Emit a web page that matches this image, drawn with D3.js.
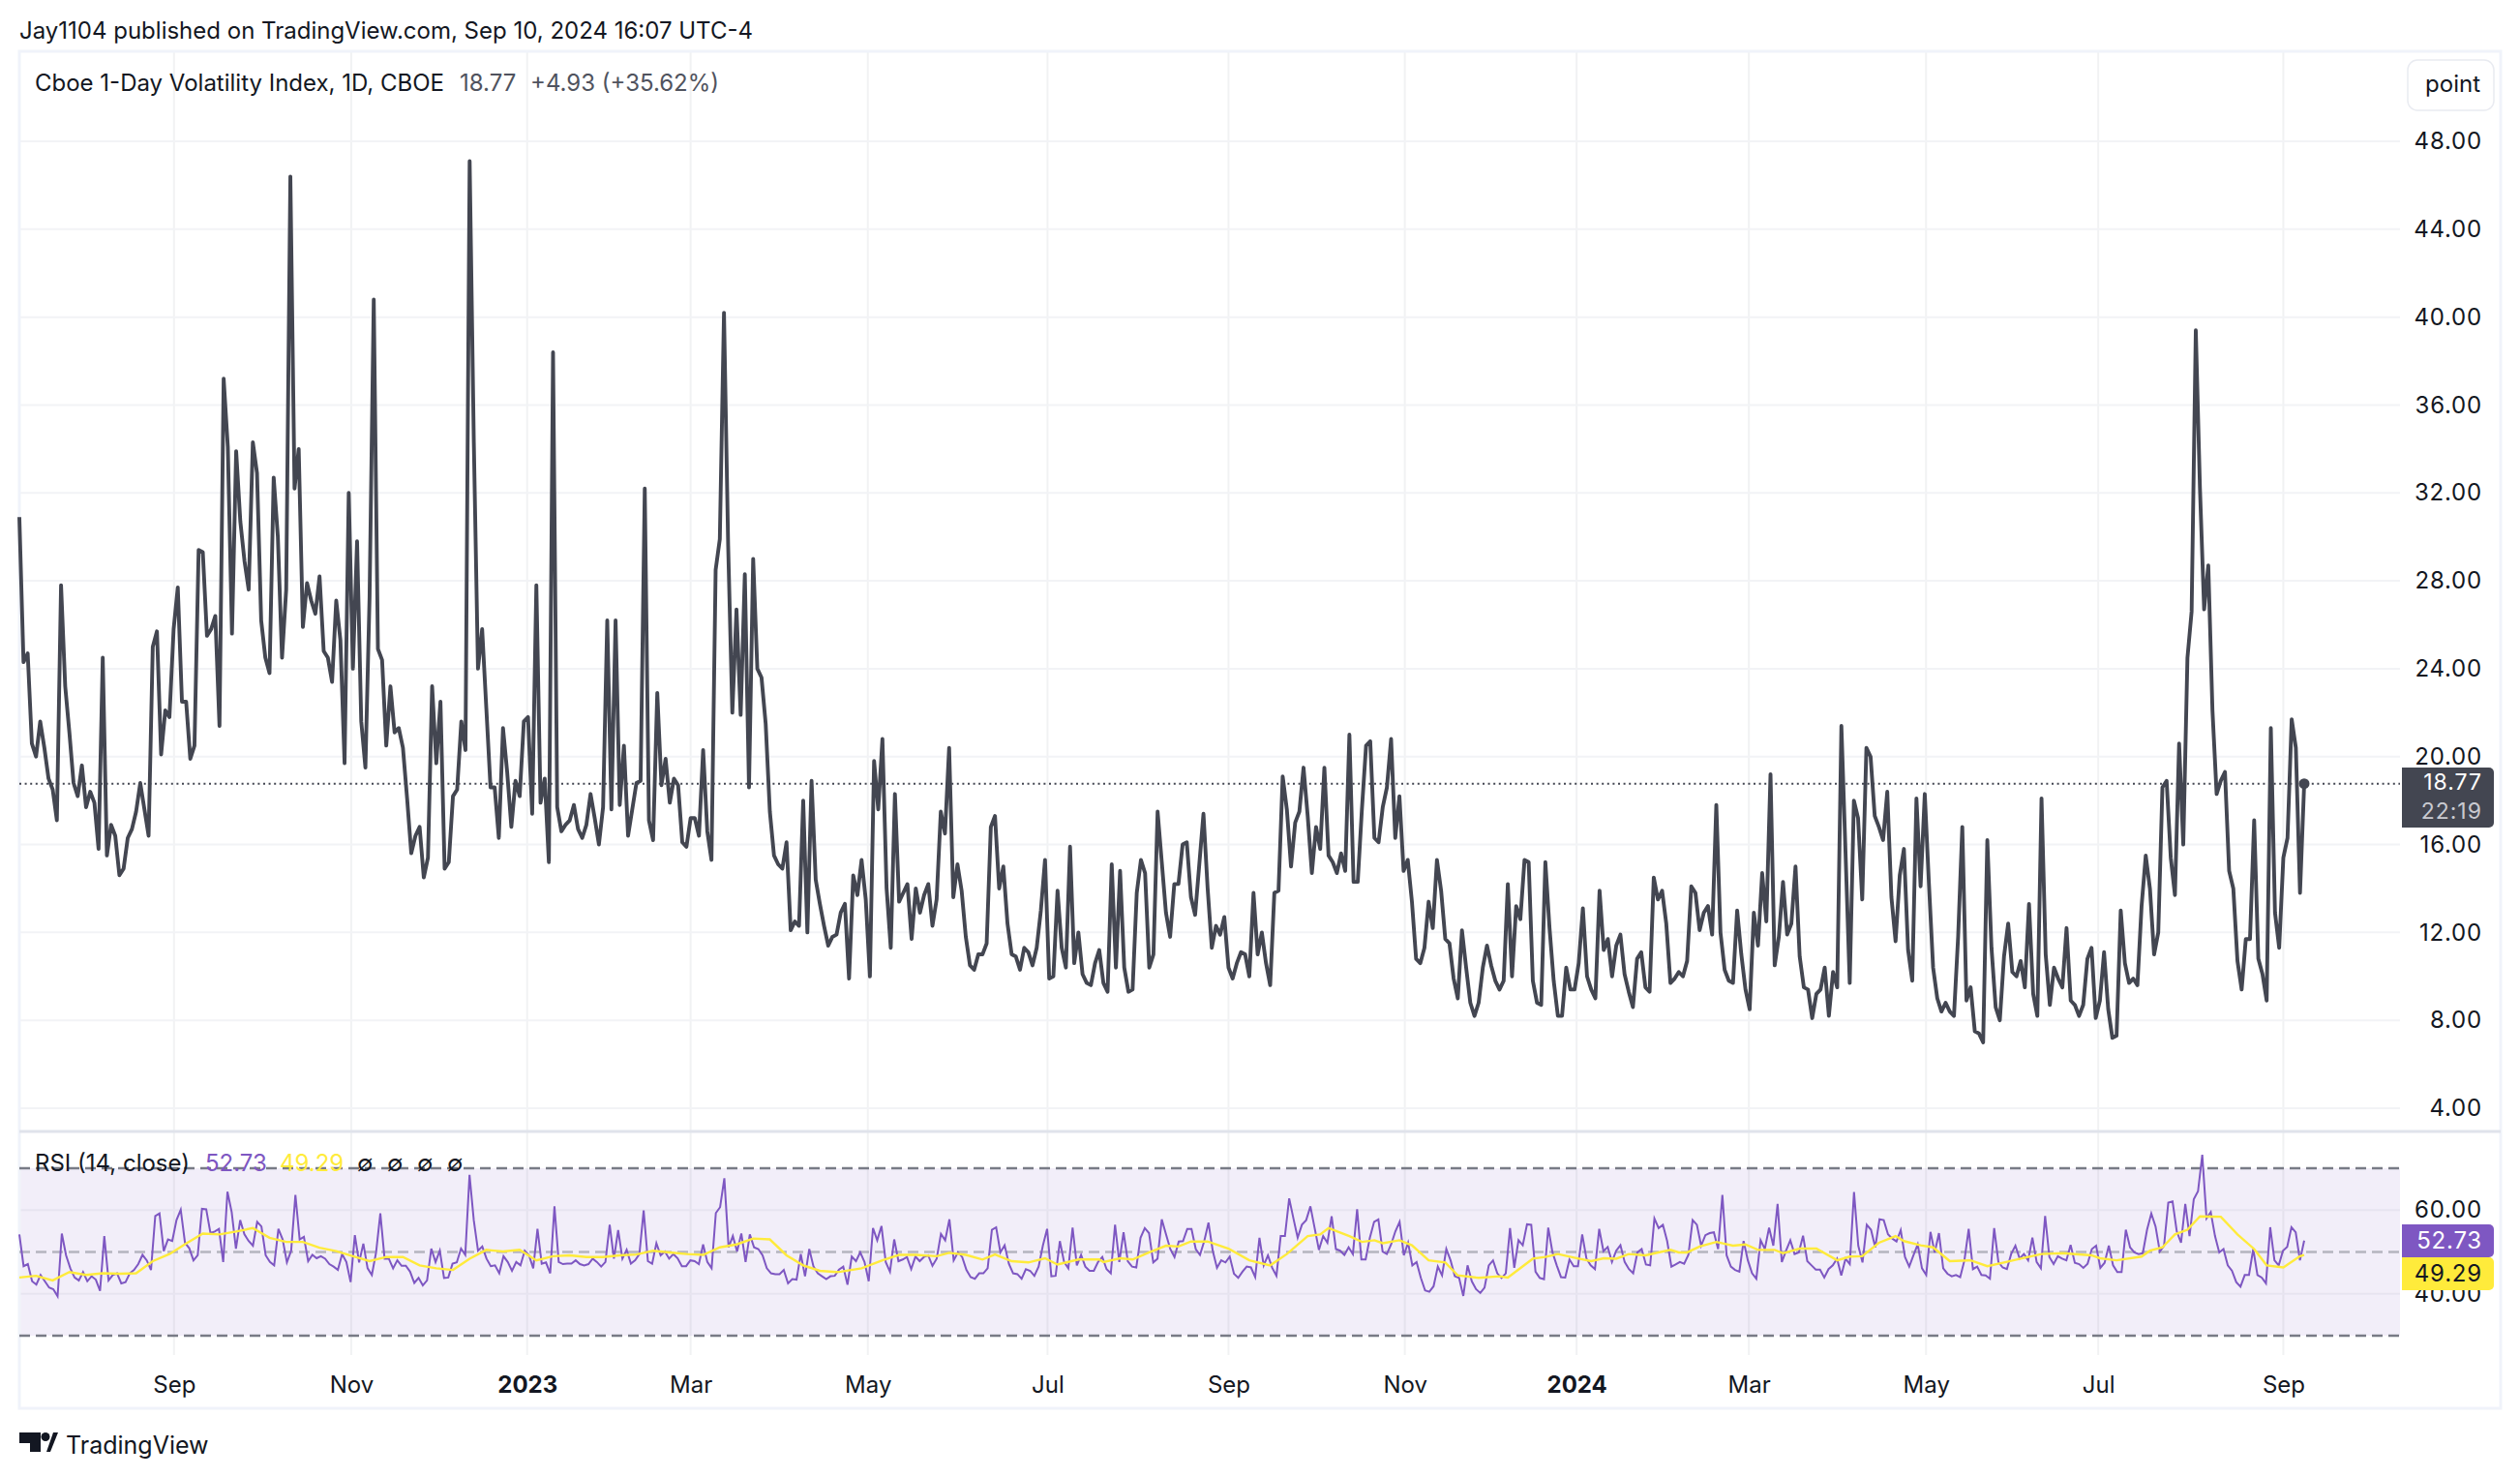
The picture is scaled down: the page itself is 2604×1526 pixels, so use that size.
<!DOCTYPE html>
<html>
<head>
<meta charset="utf-8">
<script src="https://cdn.jsdelivr.net/npm/d3@7"></script>
<style>
    html, body { margin: 0; padding: 0; background: #fff; }
    svg { display: block; font-family: Inter, "Noto Sans", sans-serif; }
    .axis path, .axis line { display: none; }
    .axis text { fill: #131722; font-family: Inter, "Noto Sans", sans-serif; }
</style>
</head>
<body>
<div id="chart"></div>
<script>
// closing values of the index, one per bar
const closes = [
    30.9,24.3,24.7,20.6,20.0,21.6,20.4,19.0,18.5,17.1,
    27.8,23.2,21.1,18.8,18.2,19.6,17.7,18.4,17.9,15.8,
    24.5,15.5,16.9,16.4,14.6,14.9,16.3,16.7,17.5,18.8,
    17.6,16.4,25.0,25.7,20.1,22.1,21.8,25.8,27.7,22.5,
    22.5,19.9,20.5,29.4,29.3,25.5,25.8,26.4,21.4,37.2,
    34.1,25.6,33.9,30.7,28.9,27.6,34.3,32.9,26.2,24.5,
    23.8,32.7,30.0,24.5,27.6,46.4,32.2,34.0,25.9,27.9,
    27.1,26.5,28.2,24.8,24.5,23.4,27.1,25.3,19.7,32.0,
    24.0,29.8,21.6,19.5,27.3,40.8,24.9,24.4,20.5,23.2,
    21.1,21.3,20.4,18.1,15.6,16.4,16.8,14.5,15.4,23.2,
    19.7,22.5,14.9,15.2,18.2,18.5,21.6,20.3,47.1,34.3,
    24.0,25.8,22.2,18.6,18.6,16.3,21.3,19.3,16.8,18.9,
    18.2,21.6,21.8,17.4,27.8,17.9,19.0,15.2,38.4,17.7,
    16.6,16.9,17.1,17.8,16.7,16.3,16.9,18.3,17.2,16.0,
    17.7,26.2,17.6,26.2,17.8,20.5,16.4,17.6,18.8,18.9,
    32.2,17.1,16.2,22.9,18.7,19.9,17.9,19.0,18.7,16.1,
    15.9,17.2,17.2,16.4,20.3,16.6,15.3,28.5,29.9,40.2,
    29.6,22.0,26.7,21.9,28.3,18.6,29.0,24.0,23.6,21.5,
    17.5,15.5,15.1,14.9,16.1,12.1,12.5,12.3,18.0,12.0,
    18.9,14.4,13.3,12.3,11.4,11.8,11.9,12.9,13.3,9.9,
    14.6,13.7,15.3,13.5,10.0,19.8,17.6,20.8,14.0,11.3,
    18.3,13.4,13.8,14.2,11.7,14.0,12.9,13.7,14.2,12.3,
    13.5,17.5,16.5,20.4,13.6,15.1,13.9,11.8,10.5,10.3,
    11.0,11.0,11.5,16.8,17.3,14.0,15.0,12.4,11.0,10.9,
    10.3,11.3,11.1,10.5,11.3,13.0,15.3,9.9,10.0,13.9,
    11.3,10.4,15.9,10.6,12.0,10.1,9.7,9.6,10.6,11.2,
    9.7,9.3,15.1,10.4,14.8,10.4,9.3,9.4,13.8,15.3,
    14.7,10.4,11.0,17.5,15.2,12.9,11.8,14.2,14.2,16.0,
    16.1,13.6,12.8,15.1,17.4,14.0,11.3,12.3,11.9,12.7,
    10.4,9.9,10.6,11.1,11.0,10.0,13.8,11.0,12.0,10.6,
    9.6,13.8,13.9,19.1,17.6,15.0,17.0,17.5,19.5,17.3,
    14.7,16.8,15.8,19.5,15.5,15.2,14.7,15.6,14.8,21.0,
    14.3,14.3,17.6,20.5,20.7,16.3,16.1,17.7,18.6,20.8,
    16.3,18.2,14.8,15.3,13.4,10.8,10.6,11.3,13.4,12.2,
    15.3,13.9,11.7,11.5,9.9,9.0,12.1,10.4,8.8,8.2,
    8.8,10.4,11.4,10.5,9.8,9.4,9.8,14.2,10.0,13.2,
    12.6,15.3,15.2,9.8,8.8,8.7,15.2,12.2,9.8,8.2,
    8.2,10.4,9.4,9.4,10.6,13.1,10.0,9.4,9.0,13.9,
    11.2,11.7,10.0,11.4,11.9,10.1,9.3,8.6,10.8,11.1,
    9.5,9.3,14.5,13.5,13.9,12.4,9.7,9.9,10.2,10.0,
    10.7,14.1,13.8,12.1,12.9,13.2,11.9,17.8,12.0,10.3,
    9.8,9.7,13.0,11.0,9.4,8.5,12.9,11.4,14.7,12.5,
    19.2,10.5,11.8,14.3,11.9,12.4,15.0,10.9,9.5,9.4,
    8.1,9.2,9.4,10.4,8.2,10.2,9.5,21.4,15.6,9.7,
    18.0,17.2,13.5,20.4,20.0,17.3,16.8,16.2,18.4,13.6,
    11.6,14.6,15.8,11.2,9.8,18.1,14.1,18.3,14.2,10.4,
    9.0,8.4,8.8,8.4,8.2,11.8,16.8,8.9,9.5,7.5,
    7.4,7.0,16.2,11.3,8.6,8.0,10.9,12.4,10.2,10.0,
    10.7,9.5,13.3,9.2,8.2,18.1,11.0,8.7,10.4,9.9,
    9.5,12.2,8.9,8.7,8.2,8.7,10.8,11.3,8.1,8.9,
    11.1,8.5,7.2,7.3,13.0,10.6,9.7,9.9,9.6,13.2,
    15.5,14.0,11.0,12.0,18.6,18.9,15.4,13.7,20.6,16.0,
    24.5,26.6,39.4,32.2,26.7,28.7,22.1,18.3,18.9,19.3,
    14.8,14.0,10.7,9.4,11.7,11.7,17.1,10.8,10.1,8.9,
    21.3,12.9,11.3,15.4,16.3,21.7,20.4,13.8,18.77
];

// RSI (14, close) read along the lower pane
const rsiValues = [
    54.2,46.6,47.1,43.0,42.2,44.5,43.0,41.5,41.1,39.4,54.4,49.2,46.1,43.9,43.2,45.2,43.0,44.2,43.4,40.7,
    53.8,43.2,44.5,44.9,42.5,42.8,44.9,45.7,47.1,49.3,48.0,45.7,58.6,59.2,50.2,53.0,52.6,57.6,60.1,52.2,
    50.9,48.0,49.2,60.3,60.2,54.5,54.9,55.5,47.6,64.4,59.5,50.8,57.6,54.2,52.6,51.5,57.2,56.1,49.2,47.6,
    46.8,55.5,53.0,47.5,50.3,63.6,53.0,53.6,47.8,49.3,48.5,49.0,48.4,47.1,46.5,45.7,49.5,47.6,42.8,54.0,
    47.5,52.0,46.1,44.5,49.9,59.2,48.4,48.4,46.1,48.0,46.7,46.7,45.3,42.6,43.8,42.0,43.2,50.8,47.6,50.3,
    43.8,43.9,47.2,47.5,50.8,49.3,68.4,57.6,50.3,51.3,48.4,46.6,46.8,44.9,49.0,47.6,45.5,47.6,46.8,50.3,
    49.2,46.1,55.5,47.2,47.5,44.9,60.9,47.6,47.1,47.2,47.2,48.0,47.1,46.8,47.1,48.4,47.6,46.5,47.6,56.5,
    48.4,55.2,48.4,50.5,47.2,48.0,49.5,59.9,47.8,47.2,52.1,49.2,50.1,48.4,49.5,48.5,46.6,46.6,48.0,47.8,
    47.1,51.8,47.6,46.1,59.3,60.7,67.6,51.1,53.8,50.1,54.4,47.6,54.2,51.1,50.7,49.2,46.1,44.9,44.7,44.7,
    45.7,42.5,43.5,43.4,49.5,44.2,50.7,46.5,44.9,44.2,43.5,44.2,44.3,45.8,
    46.5,42.2,48.9,47.8,49.9,47.6,43.0,55.7,52.8,56.2,47.6,45.3,53.0,47.8,48.2,48.8,45.9,48.9,47.8,48.8,
    49.2,46.7,48.4,54.3,52.8,57.8,48.0,49.9,48.8,45.7,44.0,43.6,44.9,44.9,46.1,55.3,55.9,49.9,51.6,47.2,
    44.9,44.7,43.6,45.9,45.5,44.3,46.5,51.5,55.5,44.2,44.3,52.6,47.6,46.1,55.8,46.8,49.3,46.5,45.5,45.5,
    47.6,48.8,45.9,44.9,56.5,47.6,54.7,47.8,46.5,46.3,53.4,55.7,54.5,47.5,48.4,57.8,54.2,50.7,48.8,52.5,
    52.6,55.5,55.5,50.7,49.3,52.6,57.0,50.3,46.2,48.0,47.5,48.9,44.8,43.8,45.3,46.5,46.3,44.0,53.4,46.8,
    49.2,46.2,44.3,53.8,53.8,62.8,58.0,53.4,56.5,57.6,60.9,55.7,50.5,53.8,52.2,58.5,50.7,50.3,49.3,51.1,
    49.5,60.2,48.2,48.2,53.4,57.2,57.8,50.1,49.5,51.8,54.9,57.2,49.2,52.2,46.8,47.6,43.8,40.8,40.5,41.8,
    46.5,44.4,50.7,48.0,44.2,43.8,39.5,46.8,43.0,41.1,40.2,41.5,46.8,48.0,44.9,43.8,44.9,55.7,46.2,52.8,
    51.6,56.6,56.5,45.3,43.8,43.5,55.8,49.9,46.8,44.0,43.9,48.2,46.6,46.6,54.2,48.4,46.8,45.9,55.5,50.2,
    51.2,47.6,50.3,51.6,47.6,45.9,44.9,49.9,50.7,47.0,46.8,58.0,55.7,56.5,52.6,46.5,47.0,47.6,
    47.2,49.3,57.6,56.5,51.5,54.0,54.5,54.7,50.7,63.6,49.2,46.5,45.7,45.3,52.6,48.0,44.9,43.6,52.8,50.7,
    55.8,51.5,61.5,47.6,50.3,52.8,49.5,49.9,53.9,47.8,46.8,45.8,45.8,43.9,45.9,46.8,48.4,44.4,48.4,47.1,
    64.3,51.5,47.5,56.5,55.3,51.1,57.8,57.6,54.2,53.2,52.5,55.2,48.8,46.5,49.2,51.8,46.1,44.5,54.8,49.9,
    54.5,46.1,44.8,44.2,44.5,44.0,48.0,55.5,45.9,46.5,44.5,44.4,43.6,55.7,47.6,46.3,45.9,49.5,51.5,48.4,
    49.5,48.0,53.4,47.6,46.1,58.6,48.8,47.1,49.0,48.4,48.0,51.7,47.4,47.1,46.2,47.2,50.7,51.5,46.2,47.4,
    51.5,46.8,45.2,45.2,55.3,51.1,49.9,49.5,49.7,55.3,59.2,56.1,50.1,51.5,61.8,62.1,54.9,52.2,61.5,53.8,
    62.6,64.5,73.2,58.0,59.5,53.8,49.9,50.7,46.8,45.5,42.8,41.7,44.5,44.5,50.7,44.5,43.9,42.5,55.9,48.0,
    46.8,50.3,51.2,55.9,54.7,48.0,52.73
];

// RSI moving average, read at these bars
const maBars = [
    0,4,8,12,16,20,24,28,32,36,40,44,48,52,56,60,64,68,72,76,80,84,88,92,96,100,104,108,112,116,
    120,124,128,132,136,140,144,148,152,156,160,164,168,172,176,180,184,188,192,196,
    197,202,207,211,215,220,223,227,231,234,238,242,246,249,254,259,260,264,267,271,275,278,281,285,
    290,295,300,304,309,312,314,319,322,325,327,331,334,338,342,345,350,355,357,363,366,369,374,377,
    380,383,386,390,396,398,400,403,407,411,414,417,421,423,427,431,436,439,442,446,450,452,456,459,
    463,468,472,476,480,485,490,497,499,503,509,511,514,517,520,523,528,532,536,539,543,547,548
];
const maValues = [
    43.9,44.3,43.2,45.2,44.5,44.9,44.8,44.9,47.8,49.5,52.0,54.4,54.2,54.9,55.7,53.4,52.4,52.4,51.0,50.2,
    49.0,47.8,48.8,48.8,46.8,46.1,45.7,48.4,50.5,50.1,50.5,48.0,49.0,49.2,48.8,48.8,49.2,49.4,50.3,49.9,
    49.5,49.3,51.1,51.8,53.2,53.0,49.2,46.8,45.5,45.2,
    45.3,46.1,48.0,49.3,49.3,49.0,49.8,49.3,48.2,49.4,47.8,47.5,48.5,47.0,48.2,48.2,47.6,48.5,48.2,49.9,
    51.5,51.3,52.5,52.5,50.8,48.0,46.8,49.5,53.8,54.2,55.7,53.8,52.4,52.8,52.1,52.8,51.6,48.0,47.5,44.4,
    43.8,44.2,43.9,48.4,48.8,49.5,48.4,47.8,48.5,48.4,49.5,49.2,50.5,49.9,49.9,51.3,52.4,51.5,51.8,50.5,
    50.5,49.7,50.8,50.8,48.0,48.9,49.0,52.2,53.8,52.6,51.6,51.1,47.8,48.0,46.6,47.5,48.4,49.5,49.7,49.2,
    48.5,48.0,48.9,50.3,51.1,54.2,55.3,58.5,58.4,54.2,50.7,46.8,46.3,49.0,49.29
];

// axis labels
const priceTicks = [4, 8, 12, 16, 20, 24, 28, 32, 36, 40, 44, 48];
const rsiTicks = [40, 60];
const monthLabels = ["Sep", "Nov", "2023", "Mar", "May", "Jul", "Sep", "Nov", "2024", "Mar", "May", "Jul", "Sep"];
const monthBars = [37.1, 79.6, 121.8, 161, 203.5, 246.6, 290, 332.3, 373.5, 414.8, 457.3, 498.6, 543];

const lastClose = 18.77;
const lastRsi = 52.73;
const lastMa = 49.29;

const width = 2604, height = 1526;
const plotLeft = 20, plotRight = 2480, frameRight = 2584;
const frameTop = 53, paneSplit = 1169, gridBottom = 1400, frameBottom = 1455;
const gridColor = "#f2f3f6";

const svg = d3.select("#chart").append("svg")
    .attr("width", width)
    .attr("height", height);

// scales
const x = d3.scaleLinear().domain([0, closes.length - 1]).range([20, 2381]);
const xRsi = d3.scaleLinear().domain([0, rsiValues.length - 1]).range([20, 2381]);
const y = d3.scaleLinear().domain([4, 48]).range([1145, 146]);
const yRsi = d3.scaleLinear().domain([30, 70]).range([1380, 1207]);

// rsi background goes under the grid
svg.append("rect")
    .attr("x", plotLeft)
    .attr("y", yRsi(70))
    .attr("width", plotRight - plotLeft)
    .attr("height", yRsi(30) - yRsi(70))
    .attr("fill", "#7e57c2")
    .attr("fill-opacity", 0.1);

// grid
svg.append("g").selectAll("line").data(monthBars).join("line")
    .attr("x1", d => x(d)).attr("x2", d => x(d))
    .attr("y1", frameTop).attr("y2", gridBottom)
    .attr("stroke", "#787b86").attr("stroke-opacity", 0.1).attr("stroke-width", 2);
svg.append("g").selectAll("line").data(priceTicks).join("line")
    .attr("x1", plotLeft).attr("x2", plotRight)
    .attr("y1", d => y(d)).attr("y2", d => y(d))
    .attr("stroke", gridColor).attr("stroke-width", 2);
svg.append("g").selectAll("line").data(rsiTicks).join("line")
    .attr("x1", plotLeft).attr("x2", plotRight)
    .attr("y1", d => yRsi(d)).attr("y2", d => yRsi(d))
    .attr("stroke", "#e7e4f0").attr("stroke-width", 2);

// frame and pane separator
svg.append("rect")
    .attr("x", plotLeft).attr("y", frameTop)
    .attr("width", frameRight - plotLeft).attr("height", frameBottom - frameTop)
    .attr("fill", "none").attr("stroke", "#f0f3fa").attr("stroke-width", 3);
svg.append("line")
    .attr("x1", plotLeft).attr("x2", frameRight)
    .attr("y1", paneSplit).attr("y2", paneSplit)
    .attr("stroke", "#e0e3eb").attr("stroke-width", 3);

// rsi limit lines
[[70, "#787b86", 1], [50, "#787b86", 0.5], [30, "#787b86", 1]].forEach(([level, color, alpha]) => {
    svg.append("line")
        .attr("x1", plotLeft).attr("x2", plotRight)
        .attr("y1", yRsi(level)).attr("y2", yRsi(level))
        .attr("stroke", color).attr("stroke-opacity", alpha)
        .attr("stroke-width", 2.4).attr("stroke-dasharray", "11,6");
});

// last price line
svg.append("line")
    .attr("x1", plotLeft).attr("x2", plotRight)
    .attr("y1", y(lastClose)).attr("y2", y(lastClose))
    .attr("stroke", "#434651").attr("stroke-width", 2).attr("stroke-dasharray", "2,3.6");

// main line
svg.append("path")
    .datum(closes)
    .attr("fill", "none")
    .attr("stroke", "#434651")
    .attr("stroke-width", 3.9)
    .attr("stroke-linejoin", "round")
    .attr("d", d3.line().x((d, i) => x(i)).y(d => y(d)));

svg.append("circle")
    .attr("cx", x(closes.length - 1)).attr("cy", y(lastClose)).attr("r", 5.5)
    .attr("fill", "#434651");

// rsi lines
svg.append("path")
    .datum(rsiValues)
    .attr("fill", "none")
    .attr("stroke", "#7e57c2")
    .attr("stroke-width", 2)
    .attr("d", d3.line().x((d, i) => xRsi(i)).y(d => yRsi(d)));

svg.append("path")
    .datum(maValues)
    .attr("fill", "none")
    .attr("stroke", "#ffeb3b")
    .attr("stroke-width", 2.4)
    .attr("d", d3.line().x((d, i) => x(maBars[i])).y(d => yRsi(d)));

// axes
const priceAxis = svg.append("g").attr("class", "axis")
    .attr("transform", `translate(${2565},0)`)
    .call(d3.axisLeft(y).tickValues(priceTicks).tickSize(0).tickPadding(0).tickFormat(d3.format(".2f")));
priceAxis.selectAll("text").style("font-size", "24px").style("letter-spacing", "0.8px");

const rsiAxis = svg.append("g").attr("class", "axis")
    .attr("transform", `translate(${2565},0)`)
    .call(d3.axisLeft(yRsi).tickValues(rsiTicks).tickSize(0).tickPadding(0).tickFormat(d3.format(".2f")));
rsiAxis.selectAll("text").style("font-size", "24px").style("letter-spacing", "0.8px");

const timeAxis = svg.append("g").attr("class", "axis")
    .attr("transform", `translate(0,${1431})`)
    .call(d3.axisBottom(x).tickValues(monthBars).tickSize(0).tickPadding(0)
        .tickFormat((d, i) => monthLabels[i]));
timeAxis.selectAll("text")
    .attr("y", 0).attr("dy", "0.35em")
    .style("font-size", "24px")
    .style("font-weight", (d, i) => monthLabels[i].length === 4 ? 700 : 400);

// price labels on the right
function badge(top, h, fill) {
    svg.append("path")
        .attr("d", `M2482,${top}H2572a5,5 0 0 1 5,5V${top + h - 5}a5,5 0 0 1 -5,5H2482Z`)
        .attr("fill", fill);
}
function label(px, py, str, color, size, anchor, weight) {
    return svg.append("text")
        .attr("x", px).attr("y", py).attr("dy", "0.35em")
        .attr("text-anchor", anchor || "start")
        .attr("fill", color)
        .style("font-size", size + "px")
        .style("font-weight", weight || 400)
        .text(str);
}

badge(793, 62, "#434651");
label(2565, 808, lastClose.toFixed(2), "#ffffff", 23, "end").style("letter-spacing", "1px");
label(2565, 838, "22:19", "#c9cad0", 23, "end").style("letter-spacing", "1px");
badge(1265, 34, "#7e57c2");
label(2565, 1282, lastRsi.toFixed(2), "#ffffff", 24, "end").style("letter-spacing", "0.8px");
badge(1299, 34, "#ffeb3b");
label(2565, 1316, lastMa.toFixed(2), "#131722", 24, "end").style("letter-spacing", "0.8px");

// point button
svg.append("rect")
    .attr("x", 2488).attr("y", 62).attr("width", 89).attr("height", 52).attr("rx", 10)
    .attr("fill", "#fff").attr("stroke", "#e9ebf1").attr("stroke-width", 1.5);
label(2563, 87, "point", "#131722", 24, "end");

// titles
label(20, 32, "Jay1104 published on TradingView.com, Sep 10, 2024 16:07 UTC-4", "#131722", 24);
label(36, 86, "Cboe 1-Day Volatility Index, 1D, CBOE", "#131722", 24);
label(475, 86, "18.77", "#50535e", 24);
label(548, 86, "+4.93 (+35.62%)", "#50535e", 24);

// rsi legend
label(36, 1202, "RSI (14, close)", "#131722", 24);
label(212, 1202, "52.73", "#7e57c2", 24);
label(289, 1202, "49.29", "#ffeb3b", 24);
[369, 400, 431, 462].forEach(px => label(px, 1202, "∅", "#131722", 24));

// logo
svg.append("path")
    .attr("d", "M20,1480H42V1500H31V1491H20Z")
    .attr("fill", "#131722");
svg.append("circle").attr("cx", 47).attr("cy", 1484.5).attr("r", 4.5).attr("fill", "#131722");
svg.append("path")
    .attr("d", "M48,1500L55,1480H60L52,1500Z")
    .attr("fill", "#131722");
label(68, 1493, "TradingView", "#131722", 25);
</script>
</body>
</html>
